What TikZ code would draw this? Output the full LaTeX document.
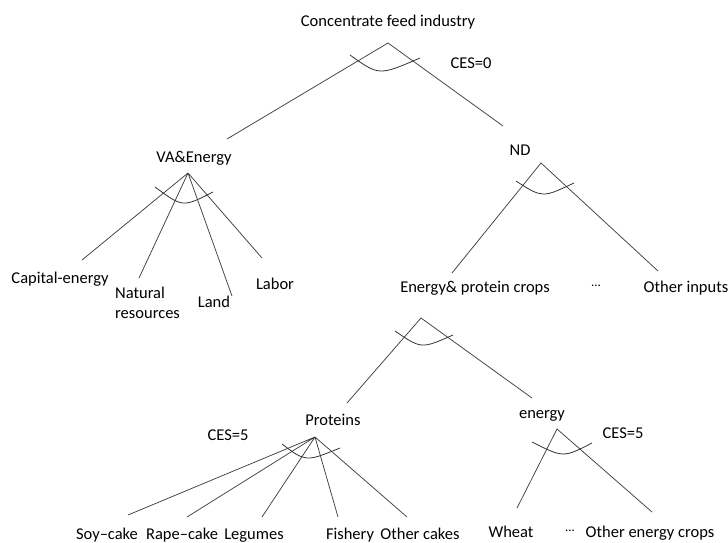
\documentclass[tikz,border=0pt]{standalone}
\usepackage{fontspec}
\setmainfont{Carlito}
\begin{document}
\begin{tikzpicture}[x=1pt,y=-1pt,
  lbl/.style={anchor=base, inner sep=0pt, text=black,
    font=\fontsize{16.5}{20}\selectfont},
  elide/.style={anchor=base, inner sep=0pt, text=black,
    font=\fontsize{13}{15}\selectfont},
  branch/.style={draw=black!75, line width=0.75pt},
  cesarc/.style={draw=black!80, line width=0.8pt}]
\useasboundingbox (0,0) rectangle (728,543);

% ---- labels ----
\node[lbl] (top)    at (388,27)  {Concentrate feed industry};
\node[lbl] (ces0)   at (471,68)  {CES=0};
\node[lbl] (va)     at (194,162) {VA\&Energy};
\node[lbl] (nd)     at (520,155) {ND};
\node[lbl] (cap)    at (60,283)  {Capital-energy};
\node[lbl, anchor=base west, align=left] (nat) at (115,318) {Natural\\resources};
\node[lbl] (land)   at (214,307) {Land};
\node[lbl] (labor)  at (275,289) {Labor};
\node[lbl] (ep)     at (475,292) {Energy\& protein crops};
\node[elide] (dots1) at (596,286) {...};
\node[lbl] (oth)    at (686,292) {Other inputs};
\node[lbl] (prot)   at (333,425) {Proteins};
\node[lbl] (ces5a)  at (228,440) {CES=5};
\node[lbl] (en)     at (542,418) {energy};
\node[lbl] (ces5b)  at (623,438) {CES=5};
\node[lbl] (soy)    at (107,539) {Soy--cake};
\node[lbl] (rape)   at (182,539) {Rape--cake};
\node[lbl] (leg)    at (254,539) {Legumes};
\node[lbl] (fish)   at (350,539) {Fishery};
\node[lbl] (ocak)   at (420,539) {Other cakes};
\node[lbl] (wheat)  at (511,537) {Wheat};
\node[elide] (dots2) at (570,531) {...};
\node[lbl] (oen)    at (650,537) {Other energy crops};

% ---- branch points and branch ends ----
\coordinate (topA) at (388,43);
\coordinate (topL) at (227,139);
\coordinate (topR) at (503,126);

\coordinate (vaA) at (188,173);
\coordinate (vaE1) at (82,260);
\coordinate (vaE2) at (139,278);
\coordinate (vaE3) at (232,296);
\coordinate (vaE4) at (262,258);

\coordinate (ndA) at (541,163);
\coordinate (ndL) at (452,273);
\coordinate (ndR) at (658,271);

\coordinate (epA) at (421,318);
\coordinate (epL) at (347,403);
\coordinate (epR) at (532,398);

\coordinate (prA) at (315,437);
\coordinate (prE1) at (128,515);
\coordinate (prE2) at (187,517);
\coordinate (prE3) at (262,517);
\coordinate (prE4) at (338,517);
\coordinate (prE5) at (407,517);

\coordinate (enA) at (557,429);
\coordinate (enL) at (517,508);
\coordinate (enR) at (652,512);

% ---- branches ----
\draw[branch] (topL) -- (topA) -- (topR);
\draw[branch] (vaA) -- (vaE1) (vaA) -- (vaE2) (vaA) -- (vaE3) (vaA) -- (vaE4);
\draw[branch] (ndL) -- (ndA) -- (ndR);
\draw[branch] (epL) -- (epA) -- (epR);
\draw[branch] (prA) -- (prE1) (prA) -- (prE2) (prA) -- (prE3) (prA) -- (prE4) (prA) -- (prE5);
\draw[branch] (enL) -- (enA) -- (enR);

% ---- substitution arcs ----
\draw[cesarc] (350,55)  .. controls (379,75.8)  .. (420,58);
\draw[cesarc] (155,187) .. controls (182.7,207.5) .. (213,192);
\draw[cesarc] (516,181) .. controls (542.3,198) .. (574,183);
\draw[cesarc] (395,331) .. controls (421.3,349) .. (453,335);
\draw[cesarc] (282,444) .. controls (305.7,462) .. (340,448);
\draw[cesarc] (532,442) .. controls (563.3,457.8) .. (592,443);
\end{tikzpicture}
\end{document}
